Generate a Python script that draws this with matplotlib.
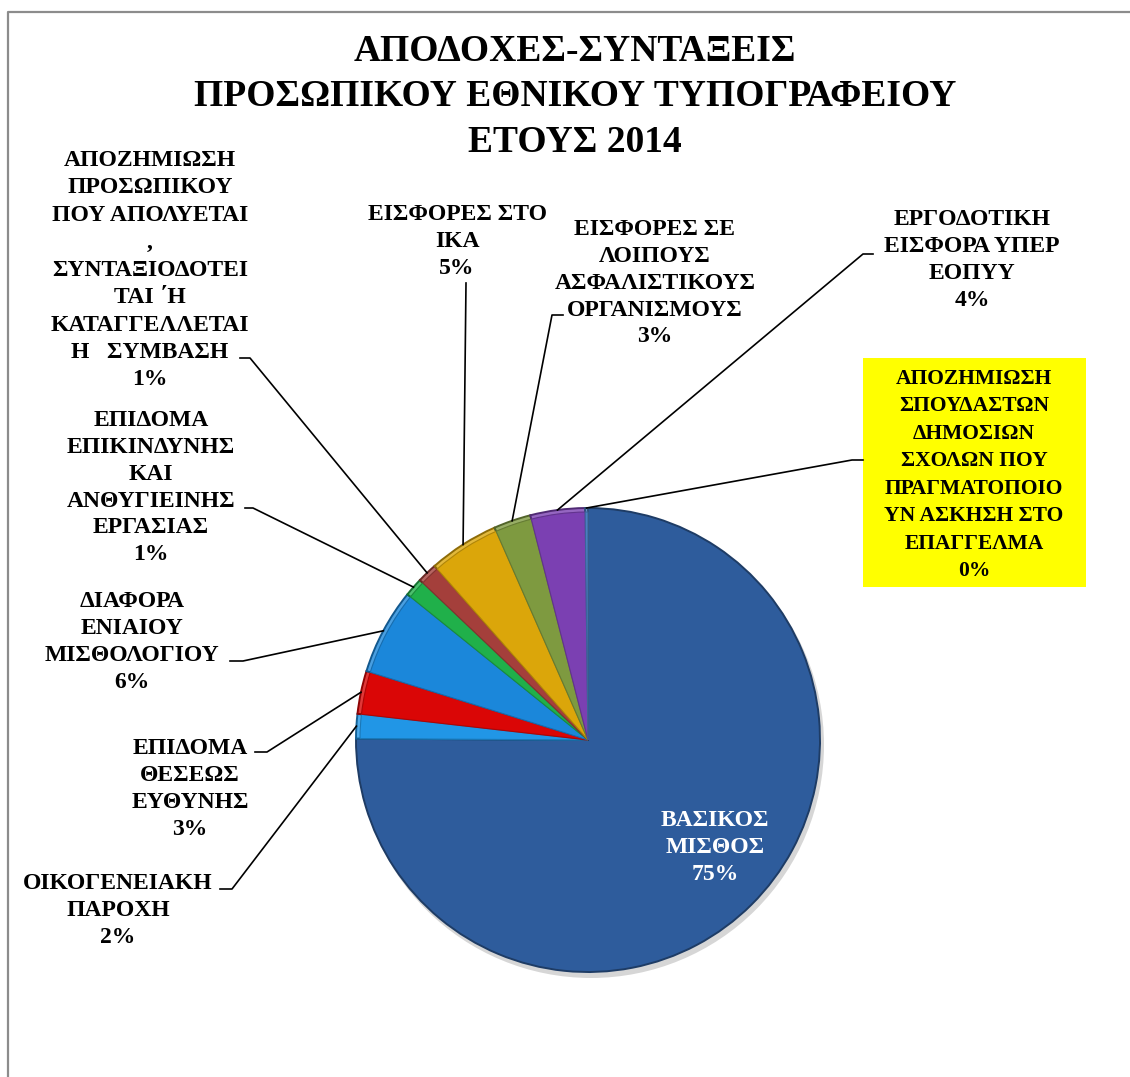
import matplotlib
matplotlib.use("Agg")
from matplotlib import pyplot as plt
from matplotlib.patches import Rectangle, Circle, Wedge
from matplotlib.lines import Line2D
import matplotlib.colors as mcolors
import numpy as np

plt.rcParams['font.family'] = ['Liberation Serif', 'DejaVu Serif']

W, H = 1130, 1077

title = "ΑΠΟΔΟΧΕΣ-ΣΥΝΤΑΞΕΙΣ\nΠΡΟΣΩΠΙΚΟΥ ΕΘΝΙΚΟΥ ΤΥΠΟΓΡΑΦΕΙΟΥ\nΕΤΟΥΣ 2014"

names = [
    "ΒΑΣΙΚΟΣ\nΜΙΣΘΟΣ",
    "ΟΙΚΟΓΕΝΕΙΑΚΗ\nΠΑΡΟΧΗ",
    "ΕΠΙΔΟΜΑ\nΘΕΣΕΩΣ\nΕΥΘΥΝΗΣ",
    "ΔΙΑΦΟΡΑ\nΕΝΙΑΙΟΥ\nΜΙΣΘΟΛΟΓΙΟΥ",
    "ΕΠΙΔΟΜΑ\nΕΠΙΚΙΝΔΥΝΗΣ\nΚΑΙ\nΑΝΘΥΓΙΕΙΝΗΣ\nΕΡΓΑΣΙΑΣ",
    "ΑΠΟΖΗΜΙΩΣΗ\nΠΡΟΣΩΠΙΚΟΥ\nΠΟΥ ΑΠΟΛΥΕΤΑΙ\n,\nΣΥΝΤΑΞΙΟΔΟΤΕΙ\nΤΑΙ ΄Η\nΚΑΤΑΓΓΕΛΛΕΤΑΙ\nΗ   ΣΥΜΒΑΣΗ",
    "ΕΙΣΦΟΡΕΣ ΣΤΟ\nΙΚΑ",
    "ΕΙΣΦΟΡΕΣ ΣΕ\nΛΟΙΠΟΥΣ\nΑΣΦΑΛΙΣΤΙΚΟΥΣ\nΟΡΓΑΝΙΣΜΟΥΣ",
    "ΕΡΓΟΔΟΤΙΚΗ\nΕΙΣΦΟΡΑ ΥΠΕΡ\nΕΟΠΥΥ",
    "ΑΠΟΖΗΜΙΩΣΗ\nΣΠΟΥΔΑΣΤΩΝ\nΔΗΜΟΣΙΩΝ\nΣΧΟΛΩΝ ΠΟΥ\nΠΡΑΓΜΑΤΟΠΟΙΟ\nΥΝ ΑΣΚΗΣΗ ΣΤΟ\nΕΠΑΓΓΕΛΜΑ",
]
# percent of total
values = [75.1, 1.7, 3.0, 6.0, 1.3, 1.4, 4.9, 2.6, 3.8, 0.2]

colors = ['#2E5C9C', '#2196E6', '#DA0606', '#1B87DA', '#20B04A',
          '#A43F3B', '#DBA60A', '#7E9A40', '#7B40B2', '#4A7EC0']
explode = [0.012, 0, 0, 0, 0, 0, 0, 0, 0, 0]

# label layout in pixels: centre x, top y
label_pos = [(715, 810), (118, 873), (190, 738), (132, 591), (151, 410),
             (150, 150), (457, 204), (655, 219), (972, 209), (974, 369)]
label_size = [17, 17, 17, 17, 17, 17, 17, 17, 17, 15.5]
# leader lines: points beside the text, the last point goes to the slice
leaders = [None,
           [(220, 889), (232, 889)],
           [(255, 752), (267, 752)],
           [(230, 661), (243, 661)],
           [(245, 508), (253, 508)],
           [(240, 358), (250, 358)],
           [(466, 283)],
           [(563, 315), (552, 315)],
           [(873, 254), (863, 254)],
           [(863, 460), (852, 460)]]

pie_c = (588, 740)
pie_r = 232


def px(x, y):
    return x, H - y


def shade(c, f):
    r, g, b = mcolors.to_rgb(c)
    if f < 1:
        return (r * f, g * f, b * f)
    return tuple(v + (1 - v) * (f - 1) for v in (r, g, b))


fig = plt.figure(figsize=(W / 100, H / 100), dpi=100)
ax = fig.add_axes([0, 0, 1, 1])

# soft shadow under the pie
ax.add_patch(Circle(px(pie_c[0] + 3, pie_c[1] + 5), pie_r + 1,
                    facecolor='#000000', alpha=0.16, edgecolor='none', zorder=0))

wedges, _ = ax.pie(values, colors=colors, startangle=90, counterclock=False,
                   center=px(*pie_c), radius=pie_r, explode=explode,
                   wedgeprops=dict(linewidth=1.4))
for i, (w, c) in enumerate(zip(wedges, colors)):
    w.set_edgecolor(shade(c, 0.65))
    w.set_zorder(2)
    if i == 0:
        continue
    # bevel on the small slices: lighter rim, normal face inside
    w.set_facecolor(shade(c, 1.2))
    ax.add_patch(Wedge(w.center, w.r - 4, w.theta1, w.theta2,
                       facecolor=c, edgecolor=shade(c, 0.8), linewidth=0.8,
                       zorder=2.1))

ax.set_xlim(0, W)
ax.set_ylim(0, H)
ax.set_aspect('equal')
ax.axis('off')

# yellow box behind the 0% label
ax.add_patch(Rectangle(px(863, 587), 223, 229, facecolor='#FFFF00',
                       edgecolor='none', zorder=1))

for i, name in enumerate(names):
    txt = name + "\n" + "%d%%" % round(values[i])
    cx, ty = label_pos[i]
    fs = label_size[i]
    ls = 27.3 / (fs * 1.175)
    if i == 5:
        ls = 28.0 / (fs * 1.175)
    ax.text(*px(cx, ty), txt, ha='center', va='top', fontsize=fs,
            fontweight='bold', linespacing=ls,
            color='white' if i == 0 else 'black', zorder=4)
    if leaders[i] is None:
        continue
    w = wedges[i]
    mid = np.deg2rad((w.theta1 + w.theta2) / 2)
    end = (w.center[0] + w.r * np.cos(mid), w.center[1] + w.r * np.sin(mid))
    pts = [px(*p) for p in leaders[i]] + [end]
    xs, ys = zip(*pts)
    ax.add_line(Line2D(xs, ys, color='black', linewidth=1.2, zorder=3))

ax.text(*px(575, 34), title, ha='center', va='top', fontsize=27,
        fontweight='bold', linespacing=1.38, zorder=4)

# chart frame (only left and top edges are inside the picture)
ax.add_line(Line2D([8, 8, W], [0, H - 12, H - 12], color='#8C8C8C',
                   linewidth=1.6, zorder=5))

fig.savefig('out.png', dpi=100)
